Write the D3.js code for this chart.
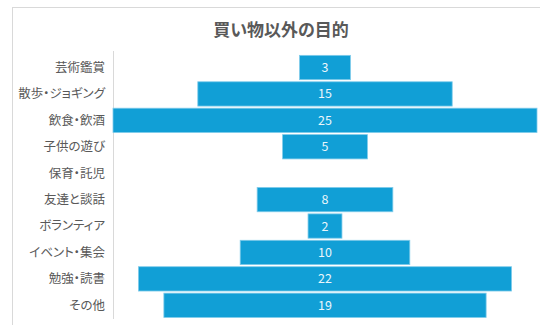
<!DOCTYPE html>
<html>
<head>
<meta charset="utf-8">
<script src="https://d3js.org/d3.v7.min.js"></script>
<style>
body { margin: 0; background: #fff; }
text { font-family: "Segoe UI", "Noto Sans CJK JP", "Open Sans", sans-serif; font-feature-settings: "palt"; }
</style>
</head>
<body>
<script>
var width = 540, height = 325;

// data
var categories = ["芸術鑑賞", "散歩・ジョギング", "飲食・飲酒", "子供の遊び", "保育・託児",
                  "友達と談話", "ボランティア", "イベント・集会", "勉強・読書", "その他"];
var values = [3, 15, 25, 5, 0, 8, 2, 10, 22, 19];
var title = "買い物以外の目的";

var svg = d3.select('body').append('svg').attr('width', width).attr('height', height);

// chart area frame (runs off the bottom/right of the picture)
svg.append('rect')
  .attr('x', 12.5).attr('y', 7.5)
  .attr('width', 600).attr('height', 330)
  .attr('fill', '#fff').attr('stroke', '#d9d9d9');

svg.append('text')
  .attr('x', 281).attr('y', 36)
  .attr('text-anchor', 'middle')
  .attr('fill', '#595959')
  .attr('font-size', 17)
  .attr('font-weight', 'bold')
  .text(title);

var maxV = d3.max(values);
var x = d3.scaleLinear().domain([0, maxV]).range([113, 537]);
var y = d3.scaleBand().domain(categories).range([54.3, 318.5]).paddingInner(0.08).paddingOuter(0.04);

// axis line
svg.append('line')
  .attr('x1', 113.5).attr('x2', 113.5)
  .attr('y1', 51).attr('y2', 319)
  .attr('stroke', '#d9d9d9');

// category labels
svg.selectAll('.cat')
  .data(categories)
  .join('text')
  .attr('class', 'cat')
  .attr('x', 105)
  .attr('y', function(d) { return y(d) + y.bandwidth() / 2; })
  .attr('dy', '0.35em')
  .attr('text-anchor', 'end')
  .attr('fill', '#595959')
  .attr('font-size', 12.5)
  .text(function(d) { return d; });

// centred bars (funnel style)
var rows = categories.map(function(c, i) { return {cat: c, v: values[i]}; });

svg.selectAll('.bar')
  .data(rows.filter(function(d) { return d.v > 0; }))
  .join('rect')
  .attr('class', 'bar')
  .attr('x', function(d) { return x((maxV - d.v) / 2); })
  .attr('y', function(d) { return y(d.cat); })
  .attr('width', function(d) { return x(d.v) - x(0); })
  .attr('height', y.bandwidth())
  .attr('fill', '#119fd6')
  .attr('stroke', '#7fcbea')
  .attr('stroke-width', 0.8);

svg.selectAll('.val')
  .data(rows.filter(function(d) { return d.v > 0; }))
  .join('text')
  .attr('class', 'val')
  .attr('x', x(maxV / 2))
  .attr('y', function(d) { return y(d.cat) + y.bandwidth() / 2; })
  .attr('dy', '0.36em')
  .attr('text-anchor', 'middle')
  .attr('fill', '#eaf6fb')
  .attr('font-size', 12.5)
  .text(function(d) { return d.v; });
</script>
</body>
</html>
